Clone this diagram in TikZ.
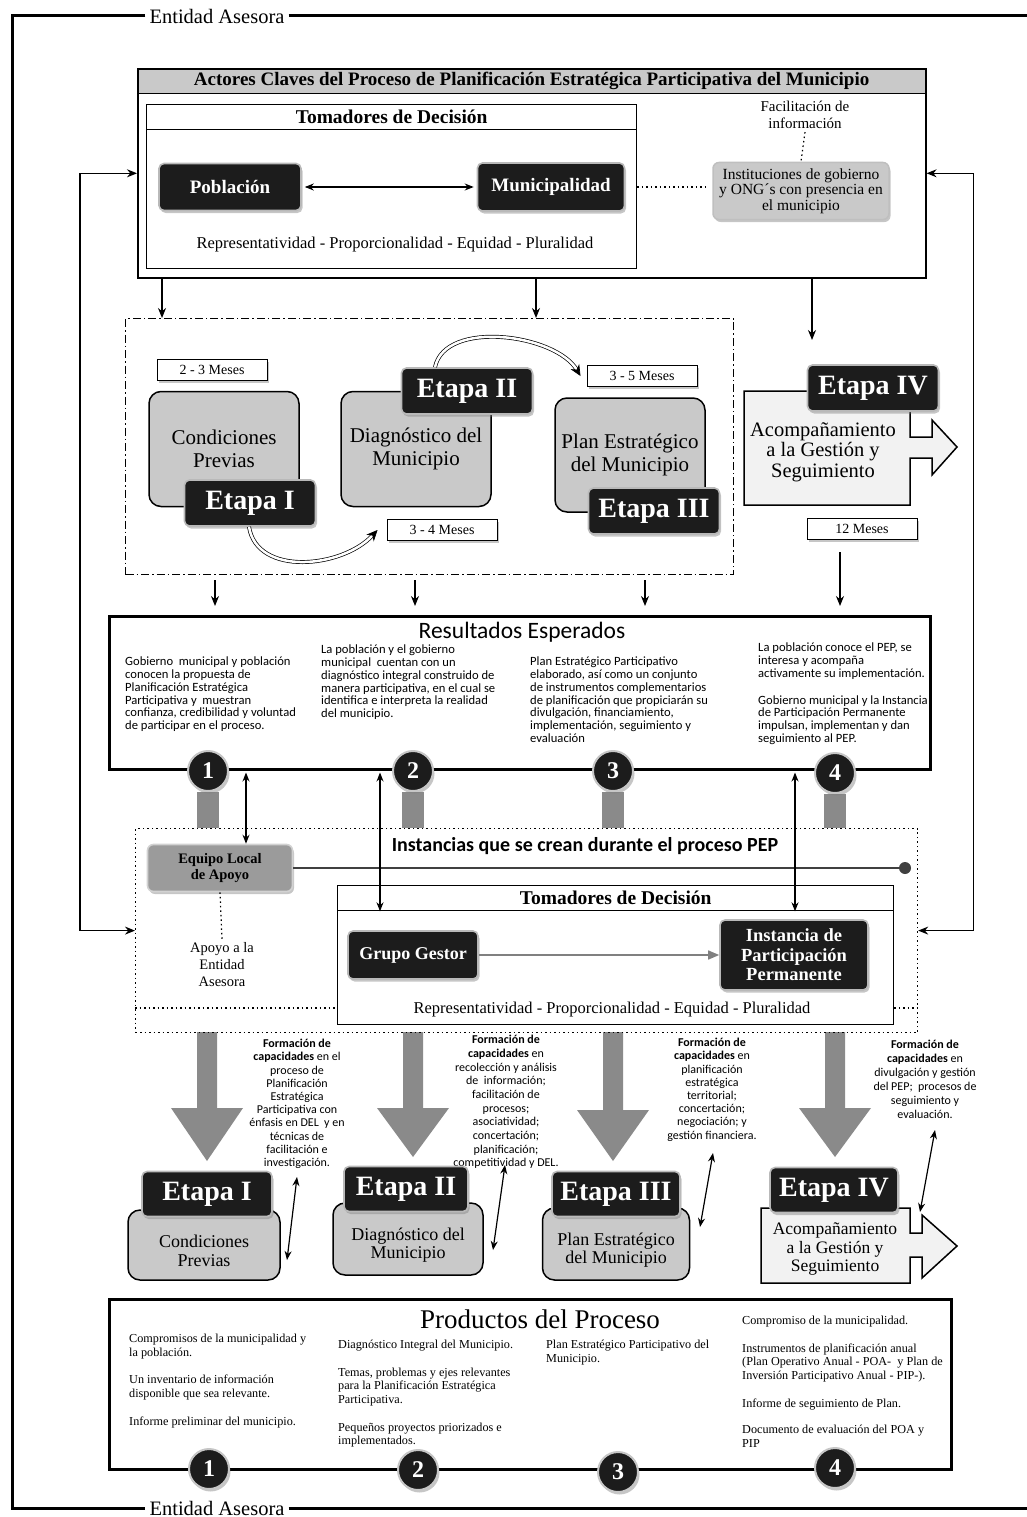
\documentclass[tikz,border=0pt]{standalone}
\usepackage{fontspec}
\setmainfont{Liberation Serif}
\newfontfamily\carl{Carlito}
\usetikzlibrary{arrows.meta,shadows,calc}
\definecolor{lgray}{HTML}{C9C9C9}
\definecolor{mgray}{HTML}{9B9B9B}
\definecolor{bgray}{HTML}{8A8A8A}
\definecolor{dblack}{HTML}{1C1C1C}
\definecolor{pale}{HTML}{F2F2F2}
\pgfdeclarelayer{bg}
\pgfsetlayers{bg,main}
\newcommand\fz[2]{\fontsize{#1}{#2}\selectfont}
\newcommand\bigarr[3]{\fill[bgray] ({#1-10},1032) -- ({#1-10},#2) -- ({#1-36},#2) -- (#1,#3) -- ({#1+36},#2) -- ({#1+10},#2) -- ({#1+10},1032) -- cycle;}
\tikzset{
  shd/.style={drop shadow={opacity=0.45,shadow xshift=1.5pt,shadow yshift=-2.5pt}},
  blk/.style={shd,draw=gray!55,line width=1.6pt,fill=dblack,text=white,rounded corners=5pt,align=center,inner sep=0pt},
  etapa/.style={blk,font=\fz{28}{30}\bfseries,minimum width=131pt,minimum height=46pt},
  gbox/.style={draw=black,line width=1.5pt,fill=lgray,rounded corners=12pt,align=center,inner sep=0pt},
  meses/.style={shd,draw=black,line width=1pt,fill=white,minimum width=110pt,minimum height=21pt,font=\fz{14}{15},inner sep=0pt},
  circ/.style={shd,circle,fill=dblack,draw=gray!45,line width=2pt,text=white,minimum size=40pt,inner sep=0pt,font=\fz{24}{24}\bfseries},
  outframe/.style={line width=3pt},
  conn/.style={line width=1.2pt},
  dbl/.style={conn,{Stealth[length=9pt,width=7pt]}-{Stealth[length=9pt,width=7pt]}},
  dnarrow/.style={conn,-{Stealth[length=10pt,width=8pt]}},
  sq/.style={draw=black,anchor=north west,inner sep=0pt},
  coltxt/.style={anchor=north west,inner sep=0pt,align=left,font=\carl\fz{12.6}{12.7}},
  prodtxt/.style={anchor=north west,inner sep=0pt,align=left,font=\fz{12.2}{13.6}},
  formtxt/.style={anchor=north,inner sep=0pt,align=center,font=\carl\fz{12}{13.2}},
  dotline/.style={line width=1.2pt,dash pattern=on 1.5pt off 3pt},
  curv/.style={draw=black,line width=0.7pt,double=white,double distance=2.5pt,-{Stealth[length=11pt,width=10pt]}},
  stagearr/.style={fill=pale,draw=black,line width=1.5pt},
}
\begin{document}
\begin{tikzpicture}[x=1pt,y=-1pt]
\useasboundingbox (0,0) rectangle (1027,1517);
% ---------- outer frame
\node[font=\fz{20.5}{21},inner sep=4pt] (eatop) at (217,16) {Entidad Asesora};
\node[font=\fz{20.5}{21},inner sep=4pt] (eabot) at (217,1508) {Entidad Asesora};
\draw[outframe] (eatop.west) -- (12,16) -- (12,1508) -- (eabot.west);
\draw[outframe] (eatop.east) -- (1027,16);
\draw[outframe] (eabot.east) -- (1027,1508);
% ---------- actores claves
\node[sq,fill=lgray,line width=1.2pt,minimum width=788pt,minimum height=25pt,font=\fz{19}{20}\bfseries] (acth) at (137,68) {Actores Claves del Proceso de Planificación Estratégica Participativa del Municipio};
\node[sq,line width=1.6pt,minimum width=788pt,minimum height=209pt] (actores) at (137,68) {};
\node[sq,line width=1.3pt,minimum width=490pt,minimum height=25pt,font=\fz{19.5}{20}\bfseries] (tomh) at (146,104) {Tomadores de Decisión};
\node[sq,line width=1.3pt,minimum width=490pt,minimum height=164pt] (tom) at (146,104) {};
\node[blk,minimum width=142pt,minimum height=47pt,font=\fz{19}{20}\bfseries] (pob) at (230,187) {Población};
\node[blk,minimum width=147pt,minimum height=48pt,font=\fz{19}{20}\bfseries] (mun) at (551,187) {Municipalidad};
\draw[dbl,shorten <=3pt,shorten >=3pt] (pob) -- (mun);
\node[font=\fz{16.5}{17}] (rep1) at (395,245) {Representatividad - Proporcionalidad - Equidad - Pluralidad};
\node[shd,draw=gray!50,line width=1.5pt,fill=lgray,rounded corners=6pt,minimum width=176pt,minimum height=57pt,align=center,font=\fz{15.5}{15.5},inner sep=0pt] (ins) at (801,191) {Instituciones de gobierno\\y ONG´s con presencia en\\el municipio};
\node[font=\fz{15}{16.5},align=center] (fac) at (805,115) {Facilitación de\\información};
\draw[dotline] (fac.south) -- (ins.north);
\draw[dotline,shorten <=12pt,shorten >=3pt] (mun.east) -- (mun.east -| ins.west);
% ---------- dash dot box
\node[sq,dash pattern=on 8pt off 3pt on 1.5pt off 3pt,line width=1pt,minimum width=608pt,minimum height=256pt] (dd) at (125,318) {};
\draw[dnarrow] (162,0 |- actores.south) -- (162,0 |- dd.north);
\draw[dnarrow] (536,0 |- actores.south) -- (536,0 |- dd.north);
\coordinate (e4top) at (812,340);
\draw[dnarrow] (812,0 |- actores.south) -- (e4top);
\node[meses] (m23) at (212,370) {2 - 3 Meses};
\node[meses] (m34) at (442,530) {3 - 4 Meses};
\node[meses] (m35) at (642,376) {3 - 5 Meses};
\node[meses] (m12) at (862,529) {12 Meses};
\node[gbox,minimum width=150pt,minimum height=115pt,font=\fz{21}{22.5}] (cond) at (224,449) {Condiciones\\Previas};
\node[gbox,minimum width=150pt,minimum height=115pt,font=\fz{21}{22.5}] (diag) at (416,449) {Diagnóstico del\\Municipio};
\node[gbox,minimum width=150pt,minimum height=114pt,font=\fz{21}{22.5}] (plan) at (630,455) {Plan Estratégico\\del Municipio};
\node[etapa] (et1) at (250,503) {Etapa I};
\node[etapa] (et2) at (467,391) {Etapa II};
\node[etapa] (et3) at (654,511) {Etapa III};
\draw[curv] ([xshift=-1pt]et1.south) .. controls +(8,50) and +(-35,38) .. ([xshift=-9pt]m34.west);
\draw[curv] ([xshift=-32pt]et2.north) .. controls +(10,-48) and +(-25,-42) .. ([xshift=-6pt]m35.west);
\filldraw[stagearr] (744,391) -- (910,391) -- (910,437) -- (932,437) -- (932,420) -- (957,447) -- (932,475) -- (932,458) -- (910,458) -- (910,505) -- (744,505) -- cycle;
\node[etapa,minimum width=131pt] (et4) at (873,388) {Etapa IV};
\node[font=\fz{20.5}{20.5},align=center] (acomp) at (823,452) {Acompañamiento\\a la Gestión y\\Seguimiento};
% ---------- resultados
\node[sq,line width=2.5pt,minimum width=821pt,minimum height=153pt] (res) at (108,615) {};
\draw[dnarrow,shorten <=5pt,shorten >=9pt] (215,0 |- dd.south) -- (215,0 |- res.north);
\draw[dnarrow,shorten <=5pt,shorten >=9pt] (415,0 |- dd.south) -- (415,0 |- res.north);
\draw[dnarrow,shorten <=5pt,shorten >=9pt] (645,0 |- dd.south) -- (645,0 |- res.north);
\draw[dnarrow,shorten <=12pt,shorten >=9pt] (840,0 |- m12.south) -- (840,0 |- res.north);
\node[font=\carl\fz{23.5}{25}] (restit) at (522,632) {Resultados Esperados};
\node[coltxt] (rc1) at (125,657) {Gobierno\ \ municipal y población\\conocen la propuesta de\\Planificación Estratégica\\Participativa y\ \ muestran\\confianza, credibilidad y voluntad\\de participar en el proceso.};
\node[coltxt] (rc2) at (321,645) {La población y el gobierno\\municipal\ \ cuentan con un\\diagnóstico integral construido de\\manera participativa, en el cual se\\identifica e interpreta la realidad\\del municipio.};
\node[coltxt] (rc3) at (530,657) {Plan Estratégico Participativo\\elaborado, así como un conjunto\\de instrumentos complementarios\\de planificación que propiciarán su\\divulgación, financiamiento,\\implementación, seguimiento y\\evaluación};
\node[coltxt] (rc4) at (758,643) {La población conoce el PEP, se\\interesa y acompaña\\activamente su implementación.\\[14pt]Gobierno municipal y la Instancia\\de Participación Permanente\\impulsan, implementan y dan\\seguimiento al PEP.};
\node[circ] (r1) at (208,771) {1};
\node[circ] (r2) at (413,771) {2};
\node[circ] (r3) at (613,771) {3};
\node[circ] (r4) at (835,773) {4};
% ---------- instancias
\node[sq,line width=1.2pt,dash pattern=on 1.5pt off 3pt,minimum width=782pt,minimum height=204pt] (inst) at (135,828) {};
\draw[conn,{Stealth[length=10pt,width=8pt]}-{Stealth[length=10pt,width=8pt]}] (actores.west) -- ++(-57,0) |- (inst.west);
\draw[conn,{Stealth[length=10pt,width=8pt]}-{Stealth[length=10pt,width=8pt]}] (actores.east) -- ++(47,0) |- (inst.east);
\node[font=\carl\bfseries\fz{20}{21}] (insttit) at (585,846) {Instancias que se crean durante el proceso PEP};
\node[shd,draw=gray!35,line width=1.6pt,fill=mgray,rounded corners=6pt,minimum width=145pt,minimum height=47pt,align=center,font=\fz{14.5}{15.5}\bfseries,inner sep=0pt] (eq) at (220,868) {Equipo Local\\de Apoyo};
\coordinate (dotend) at (905,868);
\draw[line width=1.3pt,black!75] (eq.east) -- (dotend);
\fill[black!75] (dotend) circle (6pt);
\node[font=\fz{14.5}{17},align=center] (apoyo) at (222,965) {Apoyo a la\\Entidad\\Asesora};
\draw[dotline] (eq.south) -- (apoyo.north);
\node[sq,line width=1.3pt,minimum width=556pt,minimum height=25pt,font=\fz{19.5}{20}\bfseries] (tom2h) at (337,885) {Tomadores de Decisión};
\node[sq,line width=1.3pt,minimum width=556pt,minimum height=139pt] (tom2) at (337,885) {};
\draw[dotline] (inst.west |- 0,1008) -- (tom2.west |- 0,1008);
\draw[dotline] (tom2.east |- 0,1008) -- (inst.east |- 0,1008);
\node[blk,minimum width=130pt,minimum height=48pt,font=\fz{18}{19}\bfseries] (gg) at (413,955) {Grupo Gestor};
\node[blk,minimum width=148pt,minimum height=70pt,font=\fz{18.5}{19.5}\bfseries] (ipp) at (794,955) {Instancia de\\Participación\\Permanente};
\draw[line width=1.5pt,gray,-{Triangle[length=11pt,width=9pt]}] (gg) -- (ipp);
\node[font=\fz{16.5}{17}] (rep2) at (612,1010) {Representatividad - Proporcionalidad - Equidad - Pluralidad};
\draw[dbl,shorten <=2pt] (246,0 |- res.south) -- (246,0 |- eq.north);
\draw[dbl,shorten <=2pt] (380,0 |- res.south) -- (380,0 |- tom2h.south);
\draw[dbl,shorten <=2pt] (795,0 |- res.south) -- (795,0 |- tom2h.south);
% ---------- formacion
\node[formtxt] (f1) at (297,1039) {\textbf{Formación de}\\\textbf{capacidades} en el\\proceso de\\Planificación\\Estratégica\\Participativa con\\énfasis en DEL\ \ y en\\técnicas de\\facilitación e\\investigación.};
\node[formtxt,font=\carl\fz{12}{13.7}] (f2) at (506,1035) {\textbf{Formación de}\\\textbf{capacidades} en\\recolección y análisis\\de\ \ información;\\facilitación de\\procesos;\\asociatividad;\\concertación;\\planificación;\\competitividad y DEL.};
\node[formtxt] (f3) at (712,1038) {\textbf{Formación de}\\\textbf{capacidades} en\\planificación\\estratégica\\territorial;\\concertación;\\negociación; y\\gestión financiera.};
\node[formtxt,font=\carl\fz{12}{14}] (f4) at (925,1040) {\textbf{Formación de}\\\textbf{capacidades} en\\divulgación y gestión\\del PEP;\ \ procesos de\\seguimiento y\\evaluación.};
% ---------- bottom stages
\node[gbox,minimum width=152pt,minimum height=70pt,font=\fz{18}{18.5}] (cond2) at (204,1245) {\\[6pt]Condiciones\\Previas};
\node[etapa,minimum width=130pt,minimum height=45pt] (et1b) at (207,1194) {Etapa I};
\node[gbox,minimum width=150pt,minimum height=72pt,font=\fz{18}{18.5}] (diag2) at (408,1239) {\\[6pt]Diagnóstico del\\Municipio};
\node[etapa,minimum width=124pt,minimum height=45pt] (et2b) at (406,1189) {Etapa II};
\node[gbox,minimum width=147pt,minimum height=72pt,font=\fz{18}{18.5}] (plan2) at (616,1244) {\\[6pt]Plan Estratégico\\del Municipio};
\node[etapa,minimum width=128pt,minimum height=45pt] (et3b) at (616,1194) {Etapa III};
\filldraw[stagearr] (761,1208) -- (910,1208) -- (910,1233) -- (922,1233) -- (922,1215) -- (957,1246) -- (922,1278) -- (922,1257) -- (910,1257) -- (910,1283) -- (761,1283) -- cycle;
\node[etapa,minimum width=128pt,minimum height=45pt] (et4b) at (834,1190) {Etapa IV};
\node[font=\fz{17.5}{18.5},align=center] (acomp2) at (835,1249) {Acompañamiento\\a la Gestión y\\Seguimiento};
\coordinate (d1a) at (297,1177); \coordinate (d1b) at (287,1260);
\coordinate (d2a) at (505,1165); \coordinate (d2b) at (493,1250);
\coordinate (d3a) at (713,1153); \coordinate (d3b) at (700,1227);
\coordinate (d4a) at (935,1130); \coordinate (d4b) at (920,1212);
\draw[dbl] (d1a) -- (d1b);
\draw[dbl] (d2a) -- (d2b);
\draw[dbl] (d3a) -- (d3b);
\draw[dbl] (d4a) -- (d4b);
% ---------- productos
\node[sq,line width=2.5pt,minimum width=842pt,minimum height=170pt] (prod) at (108,1298) {};
\node[font=\fz{27}{28}] (prodtit) at (540,1319) {Productos del Proceso};
\node[prodtxt] (pc1) at (129,1334) {Compromisos de la municipalidad y\\la población.\\[14pt]Un inventario de información\\disponible que sea relevante.\\[14pt]Informe preliminar del municipio.};
\node[prodtxt] (pc2) at (338,1340) {Diagnóstico Integral del Municipio.\\[14pt]Temas, problemas y ejes relevantes\\para la Planificación Estratégica\\Participativa.\\[14pt]Pequeños proyectos priorizados e\\implementados.};
\node[prodtxt] (pc3) at (546,1340) {Plan Estratégico Participativo del\\Municipio.};
\node[prodtxt] (pc4) at (742,1316) {Compromiso de la municipalidad.\\[14pt]Instrumentos de planificación anual\\(Plan Operativo Anual - POA-\ \ y Plan de\\Inversión Participativo Anual - PIP-).\\[14pt]Informe de seguimiento de Plan.\\[13pt]Documento de evaluación del POA y\\PIP};
\node[circ] (p1) at (209,1469) {1};
\node[circ] (p2) at (418,1470) {2};
\node[circ] (p3) at (618,1472) {3};
\node[circ] (p4) at (835,1468) {4};
% ---------- background layer: bars and big arrows
\begin{pgfonlayer}{bg}
\foreach \r in {r1,r2,r3,r4} \draw[bgray,line width=22pt] (\r) -- (\r |- inst.north);
\bigarr{207}{1108}{1161}
\bigarr{413}{1108}{1157}
\bigarr{613}{1110}{1161}
\bigarr{835}{1108}{1157}
\end{pgfonlayer}
\end{tikzpicture}
\end{document}
